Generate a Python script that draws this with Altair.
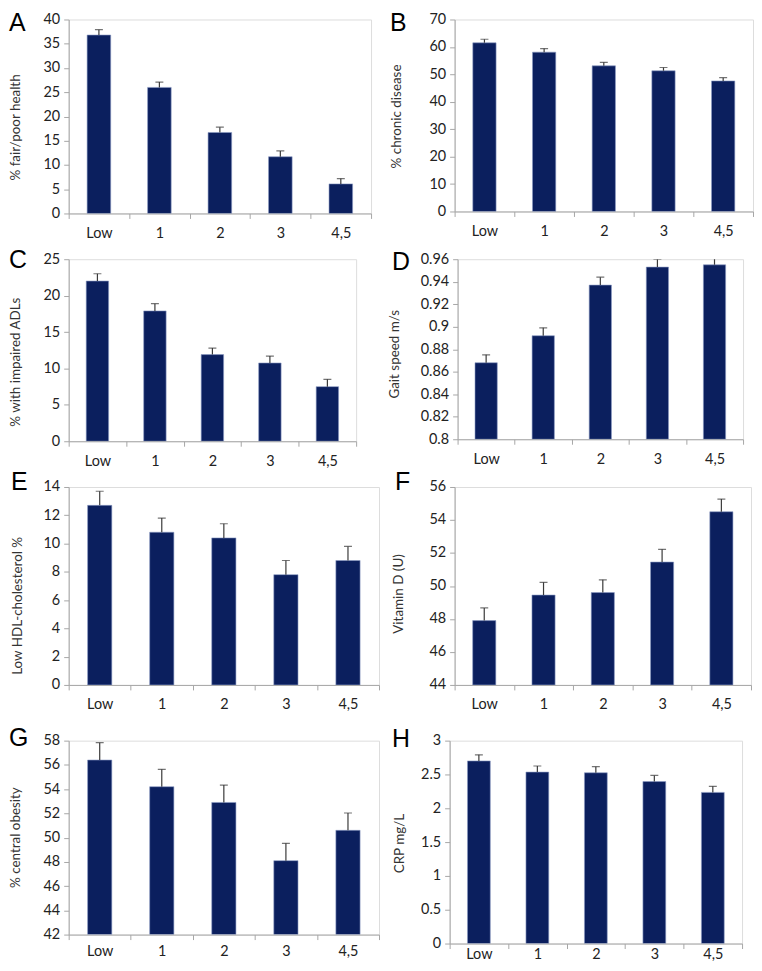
import altair as alt
import pandas as pd

categories = ["Low", "1", "2", "3", "4,5"]

fair_poor = [36.8, 26.0, 16.7, 11.7, 6.1]
fair_poor_err = [1.1, 1.1, 1.1, 1.2, 1.1]
chronic = [61.5, 58.1, 53.1, 51.3, 47.6]
chronic_err = [1.3, 1.3, 1.3, 1.2, 1.2]
adl = [22.0, 17.9, 11.9, 10.75, 7.5]
adl_err = [1.0, 1.0, 0.9, 0.95, 1.0]
gait = [0.868, 0.892, 0.937, 0.953, 0.955]
gait_err = [0.007, 0.007, 0.007, 0.007, 0.007]
hdl = [12.7, 10.8, 10.4, 7.8, 8.8]
hdl_err = [1.0, 1.0, 1.0, 1.0, 1.0]
vitd = [47.9, 49.45, 49.6, 51.45, 54.5]
vitd_err = [0.77, 0.77, 0.77, 0.77, 0.77]
obesity = [56.4, 54.2, 52.9, 48.1, 50.6]
obesity_err = [1.43, 1.43, 1.43, 1.43, 1.43]
crp = [2.70, 2.535, 2.525, 2.395, 2.235]
crp_err = [0.09, 0.09, 0.09, 0.09, 0.09]

BAR = "#0b1f5e"
AX = "#a6a6a6"
TXT = "#222222"
FONT = "Lato"


def panel(letter, vals, errs, ymin, ymax, step, title, w, h,
          lx, ly, tx, ty, lab_pad=8, top=30, bottom=30, row_h=None, left=66):
    if row_h is None:
        row_h = h
    df = pd.DataFrame({
        "cat": categories,
        "val": vals,
        "hi": [v + e for v, e in zip(vals, errs)],
    })
    n = int(round((ymax - ymin) / step))
    ticks = [round(ymin + i * step, 6) for i in range(n + 1)]
    xaxis = alt.Axis(labelAngle=0, tickBand="extent", tickSize=5,
                     domainColor=AX, tickColor=AX, labelColor=TXT,
                     labelFont=FONT, labelFontSize=14.5,
                     labelPadding=lab_pad, title=None)
    xscale = alt.Scale(paddingInner=0, paddingOuter=0)
    yscale = alt.Scale(domain=[ymin, ymax], nice=False, zero=False)
    yaxis = alt.Axis(values=ticks, format="~r", grid=False, tickSize=5,
                     labelOverlap=False,
                     domainColor=AX, tickColor=AX, labelColor=TXT,
                     labelFont=FONT, labelFontSize=14.5, labelPadding=4,
                     title=title, titleFont=FONT, titleFontSize=13.5,
                     titleFontWeight="normal", titleColor="#333333",
                     titleX=tx, titleY=ty, titleBaseline="middle",
                     titleAngle=270)
    X = alt.X("cat:N", sort=categories, scale=xscale, axis=xaxis)
    base = alt.Chart(df)
    bars = base.mark_bar(color=BAR, stroke="#8c9cc4", strokeWidth=0.6,
                         size=w / 5 * 0.39, clip=True).encode(
        x=X,
        y=alt.Y("val:Q", scale=yscale, axis=yaxis),
        y2=alt.datum(ymin),
    )
    whisk = base.mark_rule(color="#3a3a3a", strokeWidth=1.2, clip=True).encode(
        x=X,
        y=alt.Y("val:Q", scale=yscale, axis=yaxis),
        y2=alt.Y2("hi:Q"),
    )
    cap = base.mark_tick(color="#3a3a3a", size=8, thickness=1.2,
                         orient="horizontal", clip=True).encode(
        x=X,
        y=alt.Y("hi:Q", scale=yscale, axis=yaxis),
    )
    one = alt.Chart(pd.DataFrame({"t": [letter]}))
    lab = one.mark_text(
        align="left", baseline="top", fontSize=25,
        font="Liberation Sans", color="#000000", x=lx, y=ly,
    ).encode(text="t:N")
    # invisible layout spacers (fix the panel's outer extent)
    vsp = one.mark_rule(strokeOpacity=0, opacity=0).encode(
        x=alt.value(0), y=alt.value(-top), y2=alt.value(row_h + bottom))
    hsp = one.mark_rule(strokeOpacity=0, opacity=0).encode(
        x=alt.value(-left), x2=alt.value(0), y=alt.value(h / 2))
    return alt.layer(bars, whisk, cap, lab, vsp, hsp).properties(width=w, height=h)


# row 1
A = panel("A", fair_poor, fair_poor_err, 0, 40, 5, "% fair/poor health",
          304, 195, -60, -8, -53, 108, top=6, bottom=34, row_h=195, left=60)
B = panel("B", chronic, chronic_err, 0, 70, 10, "% chronic disease",
          300, 193, -65, -8, -58, 97, top=6, bottom=34, row_h=195)
# row 2
C = panel("C", adl, adl_err, 0, 25, 5, "% with impaired ADLs",
          289, 183, -60, -11, -53, 103, top=30, bottom=34, row_h=183, left=60)
D = panel("D", gait, gait_err, 0.8, 0.96, 0.02, "Gait speed m/s",
          287, 181, -66, -9, -63, 95, top=30, bottom=34, row_h=183, left=70)
# row 3
E = panel("E", hdl, hdl_err, 0, 14, 2, "Low HDL-cholesterol %",
          312, 199, -58, -17, -51, 119, top=30, bottom=44, row_h=199, left=60)
F = panel("F", vitd, vitd_err, 44, 56, 2, "Vitamin D (U)",
          298, 199, -60, -17, -56, 107, top=30, bottom=44, row_h=199)
# row 4
G = panel("G", obesity, obesity_err, 42, 58, 2, "% central obesity",
          312, 195, -60, -15, -53, 97, lab_pad=5, top=30, bottom=0,
          row_h=204, left=60)
H = panel("H", crp, crp_err, 0, 3, 0.5, "CRP mg/L",
          294, 204, -58, -14, -50, 103, lab_pad=-1, top=30, bottom=0,
          row_h=204)

row1 = alt.hconcat(A, B, spacing=16)
row2 = alt.hconcat(C, D, spacing=30)
row3 = alt.hconcat(E, F, spacing=8)
row4 = alt.hconcat(G, H, spacing=3)

chart = alt.vconcat(row1, row2, row3, row4, spacing=-20).properties(
    padding={"left": 0, "top": 0, "right": 0, "bottom": 0}
).configure_view(stroke=None).configure(background="white")

chart.save("out.html", embed_options={"renderer": "svg", "actions": False})
